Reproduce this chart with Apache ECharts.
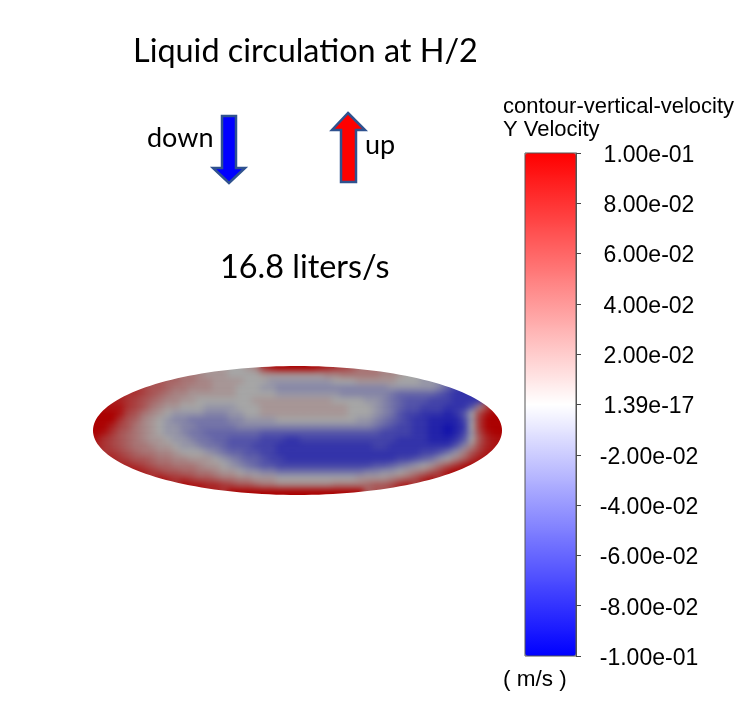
<!DOCTYPE html>
<html><head><meta charset="utf-8">
<style>html,body{margin:0;padding:0;background:#fff}#c{width:744px;height:724px}
/* soften the disk layer only: the source picture is a smooth shaded contour */
canvas[data-zr-dom-id="zr_1"]{filter:blur(3px)}</style>
<script src="https://cdn.jsdelivr.net/npm/echarts@6/dist/echarts.min.js"></script>
</head><body><div id="c"></div>
<script>
// Y velocity across the disk, in units of 1e-2 m/s, read by eye row by row
const rowStart=[19,13,9,6,4,2,1,0,0,0,0,0,0,1,2,3,5,8,11,17];
const row00=[1,2,7,9,10,10,10,10,10,9,8,7,6,5];
const row01=[2,1,1,1,0,0,0,0,1,1,1,1,1,1,1,1,2,2,3,3,3,3,3,2,2,1];
const row02=[4,4,3,3,2,2,1,1,1,1,0,0,0,-1,-1,-1,-1,-1,-1,-1,-1,0,0,0,1,1,1,1,1,0,0,0,-1,-1];
const row03=[6,5,5,4,3,3,2,2,2,1,1,1,0,0,0,-1,-1,-2,-2,-2,-2,-2,-2,-2,-2,-2,-2,-2,-2,-2,-2,-1,-1,-1,-1,-1,-1,-2,-4,-6];
const row04=[7,7,6,5,4,3,2,2,1,1,1,1,1,1,0,0,0,0,0,-1,-1,-1,-1,-1,-1,-1,-1,-2,-2,-2,-2,-2,-2,-3,-4,-4,-4,-4,-4,-5,-6,-7,-7,-7];
const row05=[8,8,7,6,5,4,3,2,2,1,1,0,0,0,0,0,0,0,1,1,1,1,1,1,1,1,1,1,0,0,0,0,-1,-1,-2,-3,-4,-5,-5,-5,-6,-6,-6,-7,-7,-7,-7];
const row06=[9,9,9,7,6,5,3,2,1,1,0,0,0,-1,-1,-1,-1,0,0,0,1,1,1,1,1,1,1,1,1,1,1,0,0,0,-1,-2,-3,-4,-5,-5,-6,-6,-6,-7,-7,-7,-5,2,6];
const row07=[10,10,10,9,6,5,3,2,1,0,-1,-1,-1,-1,-2,-2,-2,-1,-1,0,0,1,1,1,1,1,1,1,1,1,1,1,0,0,0,-1,-2,-3,-5,-6,-6,-7,-7,-7,-8,-7,-5,0,6,9,10];
const row08=[10,10,10,7,5,4,2,1,0,-1,-2,-2,-3,-3,-3,-3,-3,-2,-2,-1,-1,-1,-1,0,0,0,0,0,0,0,0,0,0,-1,-1,-2,-3,-4,-5,-6,-7,-7,-8,-8,-8,-8,-6,-1,7,10,10,10];
const row09=[10,10,8,6,5,3,2,1,0,-1,-1,-2,-2,-3,-3,-3,-3,-3,-2,-2,-2,-2,-2,-2,-2,-2,-2,-2,-2,-2,-2,-2,-2,-2,-2,-3,-4,-5,-6,-6,-7,-7,-8,-8,-9,-8,-7,0,7,10,10,10];
const row10=[10,9,7,5,4,3,2,1,0,-1,-1,-2,-3,-3,-4,-4,-4,-4,-4,-4,-4,-5,-5,-5,-5,-5,-5,-5,-5,-5,-5,-5,-5,-5,-5,-5,-6,-6,-6,-6,-7,-7,-8,-8,-9,-8,-6,-1,6,9,10,10];
const row11=[9,7,6,5,4,3,2,1,1,0,-1,-1,-2,-3,-3,-4,-4,-5,-5,-5,-5,-6,-6,-6,-7,-7,-6,-6,-6,-6,-6,-6,-6,-6,-6,-6,-6,-6,-7,-7,-7,-7,-8,-8,-8,-7,-5,0,5,8,9,9];
const row12=[8,7,6,5,4,3,3,2,1,1,0,-1,-1,-2,-3,-3,-4,-5,-5,-5,-6,-6,-6,-7,-7,-7,-7,-7,-7,-7,-7,-7,-7,-7,-7,-6,-6,-7,-7,-7,-7,-7,-7,-7,-7,-5,-2,2,6,8,9];
const row13=[7,7,6,5,4,3,3,2,2,1,0,0,0,-1,-2,-3,-4,-4,-5,-5,-6,-6,-7,-7,-7,-7,-7,-7,-7,-7,-7,-7,-7,-7,-7,-7,-7,-7,-7,-7,-6,-6,-5,-3,-1,2,5,7,9];
const row14=[8,7,6,5,5,4,3,3,2,2,1,1,1,0,-1,-2,-3,-4,-4,-5,-6,-6,-7,-7,-7,-7,-7,-7,-7,-7,-7,-7,-7,-7,-7,-7,-6,-6,-5,-4,-3,-1,0,2,4,7,9];
const row15=[8,8,7,6,5,4,4,3,3,3,2,1,1,0,-1,-2,-3,-4,-5,-5,-6,-6,-6,-6,-6,-6,-6,-6,-6,-6,-6,-6,-5,-5,-4,-3,-2,-1,0,1,3,5,7,9,10];
const row16=[9,8,7,6,5,5,4,4,3,3,2,1,1,0,-1,-1,-2,-2,-3,-3,-3,-3,-3,-3,-3,-3,-3,-3,-3,-2,-2,-1,-1,0,1,2,3,5,7,9,10];
const row17=[9,8,7,7,6,5,5,4,3,3,2,2,1,1,1,0,0,0,0,0,0,0,0,0,0,1,1,1,1,2,3,4,6,8,9];
const row18=[10,9,9,8,8,7,6,5,5,4,3,3,2,2,2,2,2,2,2,3,3,3,3,4,5,5,6,8,9];
const row19=[10,10,10,10,10,10,10,10,10,10,10,10,10,10,10,10,10];
const velocityRows=[row00,row01,row02,row03,row04,row05,row06,row07,row08,row09,row10,row11,row12,row13,row14,row15,row16,row17,row18,row19];
const colorbarTicks=['-1.00e-01','-8.00e-02','-6.00e-02','-4.00e-02','-2.00e-02','1.39e-17','2.00e-02','4.00e-02','6.00e-02','8.00e-02','1.00e-01'];
const columnCount=52;

// cells outside the disk are hidden by the mask; they repeat the nearest rim value so the softening does not fade the rim
const padL=2,padR=1,padV=2;
const nR=velocityRows.length+2*padV,nC=columnCount+padL+padR;
const matrix=Array.from({length:nR},()=>Array(nC).fill(null));
velocityRows.forEach((r,j)=>r.forEach((v,k)=>{matrix[j+padV][rowStart[j]+k+padL]=v;}));
for(let c=0;c<nC;c++){
  let last=null;
  for(let j=0;j<nR;j++){if(matrix[j][c]!==null)last=matrix[j][c];else if(last!==null)matrix[j][c]=last;}
  last=null;
  for(let j=nR-1;j>=0;j--){if(matrix[j][c]!==null)last=matrix[j][c];else if(last!==null)matrix[j][c]=last;}
}
for(let j=0;j<nR;j++){
  let last=null;
  for(let c=0;c<nC;c++){if(matrix[j][c]!==null)last=matrix[j][c];else if(last!==null)matrix[j][c]=last;}
  last=null;
  for(let c=nC-1;c>=0;c--){if(matrix[j][c]!==null)last=matrix[j][c];else if(last!==null)matrix[j][c]=last;}
}
const cells=[];
matrix.forEach((r,j)=>r.forEach((v,c)=>cells.push([c,j,v])));
const cols=Array.from({length:nC},(_,i)=>i);
const rows=Array.from({length:nR},(_,j)=>j);

// white mask with an elliptical hole: the disk outline
const cx=297.5,cy=430.5,rx=204.5,ry=64.5;
const maskPts=[[55,335],[524,335],[524,525],[55,525],[55,335],[cx-rx,cy]];
for(let a=0;a<=360;a+=2){const t=a*Math.PI/180;maskPts.push([cx-rx*Math.cos(t),cy+ry*Math.sin(t)]);}
maskPts.push([55,335]);

const arrowLine='#2f528f';
const txt=(x,y,text,font,size,extra)=>({type:'text',x,y,z:20,style:Object.assign({text,fontFamily:font,fontSize:size,fill:'#000',textVerticalAlign:'middle',textBaseline:'middle'},extra||{})});
const chart=echarts.init(document.getElementById('c'),null,{renderer:'canvas'});
chart.setOption({
 animation:false,backgroundColor:'#fff',
 grid:[{left:92-8*padL,top:365-6.5*padV,width:8*nC,height:6.5*nR,show:false},{left:525,top:153,width:51,height:503,show:false}],
 xAxis:[{type:'category',gridIndex:0,data:cols,show:false},{type:'value',gridIndex:1,show:false,min:0,max:1}],
 yAxis:[{type:'category',gridIndex:0,data:rows,inverse:true,show:false},
  {type:'value',gridIndex:1,position:'right',min:-10,max:10,interval:2,z:10,
   axisLine:{show:true,onZero:false,lineStyle:{color:'#555',width:1}},
   axisTick:{show:true,length:5,inside:false,lineStyle:{color:'#444',width:1}},
   splitLine:{show:false},
   axisLabel:{align:'center',verticalAlign:'top',lineHeight:5,margin:73,fontFamily:'Liberation Sans',fontSize:23,color:'#000',
     formatter:v=>colorbarTicks[Math.round((v+10)/2)]}}],
 visualMap:[
  {type:'continuous',show:false,seriesIndex:0,min:-10,max:10,inRange:{color:['#0000aa','#a5a5a5','#aa0000']}},
  {type:'continuous',show:true,seriesIndex:1,min:-10,max:10,left:525,top:153,padding:0,itemWidth:51,itemHeight:503,calculable:false,showLabel:false,text:['',''],hoverLink:false,inRange:{color:['#0000ff','#ffffff','#ff0000']}}
 ],
 series:[
  {type:'heatmap',xAxisIndex:0,yAxisIndex:0,zlevel:1,data:cells,progressive:0,clip:false,silent:true,itemStyle:{borderWidth:0},emphasis:{disabled:true}},
  {type:'scatter',xAxisIndex:1,yAxisIndex:1,data:[],silent:true}
 ],
 graphic:[
  {type:'polygon',zlevel:2,z:15,silent:true,shape:{points:maskPts},style:{fill:'#fff'}},
  {type:'rect',z:16,silent:true,shape:{x:525,y:153,width:51,height:503},style:{fill:'none',stroke:'#555',lineWidth:1}},
  {type:'polygon',z:16,silent:true,shape:{points:[[222,116],[236,116],[236,168],[245,168],[229,183],[213,168],[222,168]]},style:{fill:'#0000ff',stroke:arrowLine,lineWidth:2.5}},
  {type:'polygon',z:16,silent:true,shape:{points:[[348,113],[365,130],[356,130],[356,182],[341,182],[341,130],[332,130]]},style:{fill:'#ff0000',stroke:arrowLine,lineWidth:2.5}},
  txt(133,52,'Liquid circulation at H/2','Lato',32.4),
  txt(220,268,'16.8 liters/s','Lato',32.4),
  txt(147,138,'down','Lato',27),
  txt(365,145,'up','Lato',27),
  txt(503,107,'contour-vertical-velocity','Liberation Sans',22),
  txt(503,130,'Y Velocity','Liberation Sans',22),
  txt(503,680,'( m/s )','Liberation Sans',22.5)
 ]
});
</script></body></html>
